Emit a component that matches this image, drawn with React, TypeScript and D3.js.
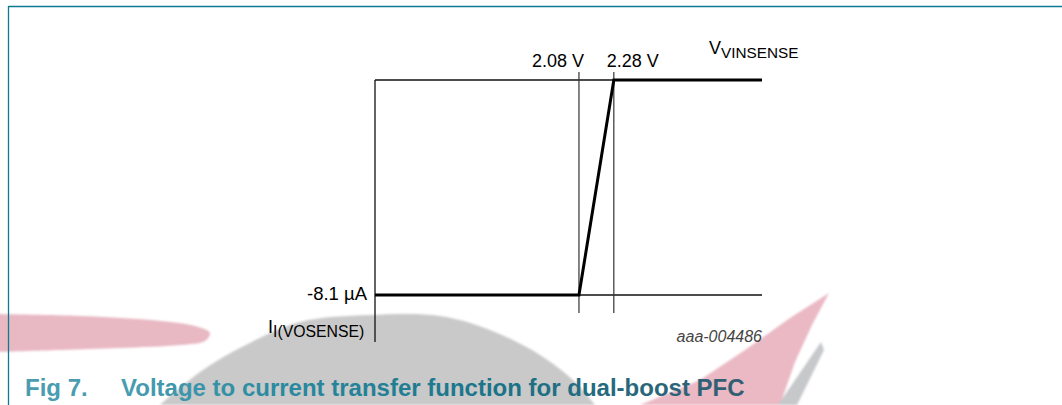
import React from "react";
import * as d3 from "d3";

// ---- data ----
const thresholdVolts = [2.08, 2.28];
const thresholdLabels = ["2.08 V", "2.28 V"];
const currentLevels = [-8.1, 0]; // µA
const currentLabels = ["-8.1 µA"];
const transferV = [0.91, 2.08, 2.28, 3.13];
const transferI = [-8.1, -8.1, 0, 0];
const xAxisTitle = ["V", "VINSENSE"];
const yAxisTitle = ["I", "I(VOSENSE)"];
const figureId = "aaa-004486";
const captionNumber = "Fig 7.";
const captionText = "Voltage to current transfer function for dual-boost PFC";

const W = 1062;
const H = 405;
const FONT = "'Liberation Sans', Arial, Helvetica, sans-serif";

export default function App() {
  const x = d3.scaleLinear().domain([0.91, 3.13]).range([375, 762]);
  const y = d3.scaleLinear().domain([0, -8.1]).range([80, 295]);

  const pts = transferV.map((v, i) => [x(v), y(transferI[i])] as [number, number]);
  const line = d3.line();
  const thickPath = line(pts) as string;

  const vLo = thresholdVolts[0];
  const vHi = thresholdVolts[1];
  const iLow = currentLevels[0];
  const iHigh = currentLevels[1];

  // watermark shapes
  const pinkLeft: [number, number][] = [
    [-5, 314], [80, 316], [150, 320], [195, 326], [210, 333], [205, 341], [180, 345], [120, 348], [60, 350], [-5, 352],
  ];
  const grayArch: [number, number][] = [
    [160, 405], [200, 372], [240, 348], [300, 322], [370, 315], [440, 316], [490, 330], [540, 355], [575, 382], [595, 405],
  ];
  const pinkWedge: [number, number][] = [
    [829, 293], [812, 325], [795, 362], [780, 405], [700, 405], [640, 405], [700, 380], [745, 350], [790, 318],
  ];
  const graySliver: [number, number][] = [
    [821, 342], [824, 350], [797, 405], [778, 405],
  ];

  return (
    <svg
      width={W}
      height={H}
      viewBox={`0 0 ${W} ${H}`}
      style={{ position: "absolute", left: 0, top: 0, background: "#fff" }}
      fontFamily={FONT}
    >
      <defs>
        <filter id="soft" x="-5%" y="-5%" width="110%" height="110%">
          <feGaussianBlur stdDeviation="1.2" />
        </filter>
        <linearGradient id="capgrad" x1="0" x2="1" y1="0" y2="0">
          <stop offset="0" stopColor="#4a9db1" />
          <stop offset="0.25" stopColor="#2a8aa0" />
          <stop offset="0.6" stopColor="#1b7388" />
          <stop offset="1" stopColor="#335d72" />
        </linearGradient>
      </defs>
      <rect x={0} y={0} width={W} height={H} fill="#fff" />
      {/* watermark */}
      <g filter="url(#soft)">
        <path d={d3.line().curve(d3.curveCatmullRom)(pinkLeft) + "Z"} fill="#e8b8c3" />
        <path d={d3.line().curve(d3.curveCatmullRom)(grayArch) + "Z"} fill="#c9c9c9" />
        <path d={d3.line()(pinkWedge) + "Z"} fill="#eab9c4" />
        <path d={d3.line()(graySliver) + "Z"} fill="#c6c8ca" />
      </g>

      {/* frame */}
      <line x1={8.5} y1={6.5} x2={W} y2={6.5} stroke="#0e7a90" strokeWidth={1.3} />
      <line x1={8.5} y1={6} x2={8.5} y2={H} stroke="#0e7a90" strokeWidth={1.3} />

      {/* axes & guides */}
      <line x1={x(transferV[0])} y1={y(iHigh)} x2={x(transferV[0])} y2={342} stroke="#111" strokeWidth={1.3} />
      <line x1={x(transferV[0])} y1={y(iHigh)} x2={x(vHi)} y2={y(iHigh)} stroke="#111" strokeWidth={1.3} />
      <line x1={x(vLo)} y1={y(iLow)} x2={x(transferV[3])} y2={y(iLow)} stroke="#111" strokeWidth={1.3} />
      {thresholdVolts.map((v) => (
        <line key={v} x1={x(v)} y1={72} x2={x(v)} y2={313} stroke="#333" strokeWidth={1.2} />
      ))}

      {/* transfer function */}
      <path d={thickPath} fill="none" stroke="#000" strokeWidth={3} strokeLinejoin="miter" />

      {/* labels */}
      {thresholdVolts.map((v, i) => (
        <text key={v} x={x(v) - (i === 0 ? 21 : -19)} y={67} fontSize={18} textAnchor="middle" fill="#000">
          {thresholdLabels[i]}
        </text>
      ))}
      <text x={709} y={54} fontSize={18} fill="#000">
        {xAxisTitle[0]}
        <tspan fontSize={15.3} dy={3.5}>{xAxisTitle[1]}</tspan>
      </text>
      <text x={367} y={y(iLow) + 5} fontSize={18.5} textAnchor="end" fill="#000">
        {currentLabels[0]}
      </text>
      <text x={268} y={333} fontSize={18} fill="#000">
        {yAxisTitle[0]}
        <tspan fontSize={15.8} dy={4}>{yAxisTitle[1]}</tspan>
      </text>
      <text x={762} y={342} fontSize={16} fontStyle="italic" textAnchor="end" fill="#444">
        {figureId}
      </text>

      {/* caption */}
      <text x={25} y={396} fontSize={24} fontWeight="bold" fill="#4a9db1">
        {captionNumber}
      </text>
      <text x={121} y={396} fontSize={24} fontWeight="bold" fill="url(#capgrad)">
        {captionText}
      </text>
    </svg>
  );
}
